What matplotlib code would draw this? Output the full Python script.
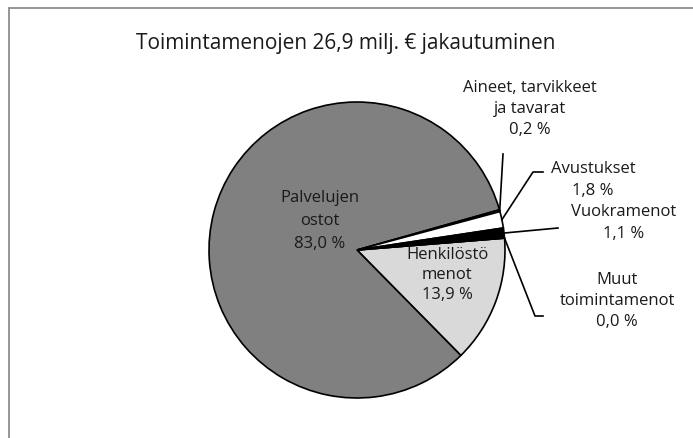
import numpy as np
import matplotlib
matplotlib.use("Agg")
import matplotlib.pyplot as plt
from matplotlib.patches import Rectangle

plt.rcParams['font.family'] = ['Open Sans', 'DejaVu Sans']

# data (share of operating costs, %)
names = ['Henkilöstö\nmenot', 'Palvelujen\nostot', 'Aineet, tarvikkeet\nja tavarat',
         'Avustukset', 'Vuokramenot', 'Muut\ntoimintamenot']
shares = [13.9, 83.0, 0.2, 1.8, 1.1, 0.0]
colors = ['#d9d9d9', '#808080', '#ffffff', '#ffffff', '#000000', '#ffffff']
title = 'Toimintamenojen 26,9 milj. € jakautuminen'

W, H = 693, 439
cx, cy, r = 357, 251, 148   # pie centre / radius in pixels
start = 4.6

fig = plt.figure(figsize=(W / 100, H / 100), dpi=100)
fig.patches.append(Rectangle((9 / W, -0.2), 1.2, 1 - 9 / H + 0.2, transform=fig.transFigure,
                             fill=False, edgecolor='#8c8c8c', lw=1.3))

ax = fig.add_axes([(cx - r) / W, (H - cy - r) / H, 2 * r / W, 2 * r / H])
wedges, _ = ax.pie(shares, colors=colors, startangle=start, counterclock=False,
                   radius=1, wedgeprops=dict(edgecolor='black', linewidth=1.2))
ax.set_xlim(-1, 1)
ax.set_ylim(-1, 1)
ax.set_aspect('equal')
ax.axis('off')

def px(x, y):
    return (x - cx) / r, (cy - y) / r

def pct(v):
    return ('%.1f' % v).replace('.', ',') + ' %'

fs = 12
# labels inside the pie
lab_in = {0: (447, 275, 1.3), 1: (320, 221, 1.55)}
for i, (x, y, ls) in lab_in.items():
    tx, ty = px(x, y)
    ax.text(tx, ty, names[i] + '\n' + pct(shares[i]), ha='center', va='center',
            fontsize=fs, color='#1a1a1a', linespacing=ls)

# outside labels with leader lines
lab_out = {2: (530, 109), 3: (593, 180), 4: (624, 223), 5: (617, 301)}
elbows = {2: [(503, 155)], 3: [(533, 173), (543, 173)], 4: [(558, 229)],
          5: [(535, 317), (543, 317)]}
for i, (x, y) in lab_out.items():
    w = wedges[i]
    if shares[i] > 0:
        a = np.deg2rad((w.theta1 + w.theta2) / 2)
    else:
        a = np.deg2rad(w.theta1)
    pts = [(np.cos(a), np.sin(a))] + [px(*p) for p in elbows[i]]
    ax.plot([p[0] for p in pts], [p[1] for p in pts], color='black', lw=1.2,
            clip_on=False)
    tx, ty = px(x, y)
    ax.text(tx, ty, names[i] + '\n' + pct(shares[i]), ha='center', va='center',
            fontsize=fs, color='#1a1a1a', linespacing=1.45)

fig.text(346 / W, 1 - 44 / H, title, ha='center', va='center', fontsize=15,
         color='#1a1a1a')

fig.savefig('out.png', dpi=100)
